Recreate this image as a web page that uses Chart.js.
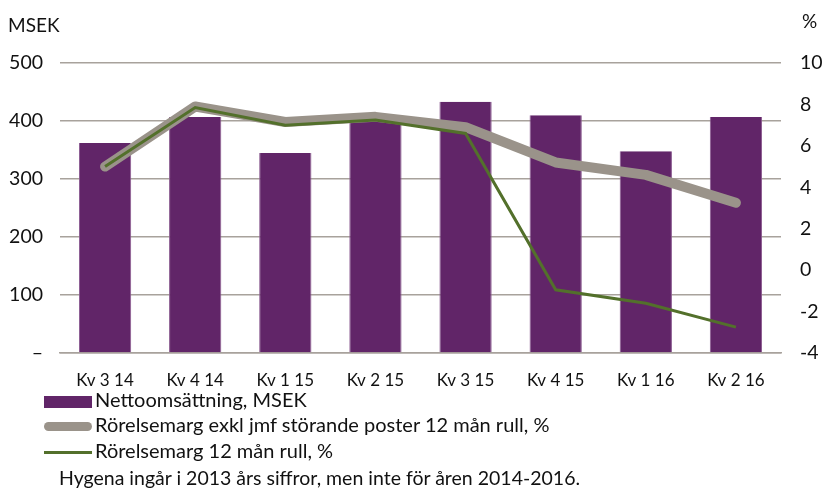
<!DOCTYPE html>
<html lang="sv">
<head>
<meta charset="UTF-8">
<title>Nettoomsättning och rörelsemarginal</title>
<style>
  body { margin: 0; background: #fff; font-family: Lato, "Open Sans", sans-serif; color: #111; }
  #wrap { position: relative; width: 822px; height: 491px; }
  #chartBox { position: absolute; left: 0; top: 0; width: 822px; height: 392px; }
  .leg { position: absolute; left: 44px; font-size: 20px; line-height: 22px; }
  .leg span.sw { display: inline-block; vertical-align: middle; width: 48px; margin-right: 3px; }
  .note { position: absolute; left: 59px; top: 466px; font-size: 19.5px; }
</style>
</head>
<body>
<div id="wrap">
  <div id="chartBox"><canvas id="myChart"></canvas></div>
  <div class="leg" style="top:388px"><span class="sw" style="height:12px;background:#612568"></span>Nettoomsättning, MSEK</div>
  <div class="leg" style="top:413px"><span class="sw" style="height:9px;border-radius:5px;background:#9a938a"></span>Rörelsemarg exkl jmf störande poster 12 mån rull, %</div>
  <div class="leg" style="top:439px"><span class="sw" style="height:3px;background:#53702b"></span>Rörelsemarg 12 mån rull, %</div>
  <div class="note">Hygena ingår i 2013 års siffror, men inte för åren 2014-2016.</div>
</div>

<script src="https://cdn.jsdelivr.net/npm/chart.js"></script>
<script>
const categories = ['Kv 3 14', 'Kv 4 14', 'Kv 1 15', 'Kv 2 15', 'Kv 3 15', 'Kv 4 15', 'Kv 1 16', 'Kv 2 16']
const nettoomsattning = [362, 407, 345, 405, 433, 410, 348, 407]
const marginalExkl = [5.0, 7.9, 7.15, 7.4, 6.9, 5.2, 4.6, 3.25]
const marginal = [5.0, 7.85, 7.0, 7.25, 6.6, -0.95, -1.6, -2.75]
const leftTicks = [0, 100, 200, 300, 400, 500]
const rightTicks = [-4, -2, 0, 2, 4, 6, 8, 10]

const tickFont = { family: 'Lato', size: 19.5 }

// axis unit labels above the scales
const unitLabels = {
    id: 'unitLabels',
    afterDraw(chart) {
        const ctx = chart.ctx
        ctx.save()
        ctx.font = '19px Lato'
        ctx.fillStyle = '#111'
        ctx.textBaseline = 'middle'
        ctx.textAlign = 'left'
        ctx.fillText('MSEK', 8, 26)
        ctx.fillText('%', 802, 22)
        ctx.restore()
    }
}

const ctx = document.getElementById('myChart')
new Chart(ctx, {
    data: {
        labels: categories,
        datasets: [
            {
                type: 'line',
                label: 'Rörelsemarg 12 mån rull, %',
                data: marginal,
                yAxisID: 'y1',
                borderColor: '#53702b',
                borderWidth: 3,
                pointRadius: 0,
                tension: 0,
                order: 1
            },
            {
                type: 'line',
                label: 'Rörelsemarg exkl jmf störande poster 12 mån rull, %',
                data: marginalExkl,
                yAxisID: 'y1',
                borderColor: '#9a938a',
                borderWidth: 10,
                borderCapStyle: 'round',
                borderJoinStyle: 'round',
                pointRadius: 0,
                tension: 0,
                order: 2
            },
            {
                type: 'bar',
                label: 'Nettoomsättning, MSEK',
                data: nettoomsattning,
                yAxisID: 'y',
                backgroundColor: '#612568',
                borderColor: '#8a5a90',
                borderWidth: { top: 0, left: 1, right: 1, bottom: 0 },
                categoryPercentage: 0.58,
                barPercentage: 1,
                order: 3
            }
        ]
    },
    options: {
        responsive: true,
        maintainAspectRatio: false,
        animation: false,
        layout: { padding: { top: 63, bottom: 0, left: 0, right: 0 } },
        plugins: { legend: { display: false }, tooltip: { enabled: false } },
        scales: {
            x: {
                afterFit: s => { s.height = 39 },
                grid: { display: false, drawTicks: false },
                border: { color: '#a8a29c', width: 1.5 },
                ticks: { color: '#111', font: { family: 'Lato', size: 17 }, padding: 17, maxRotation: 0 }
            },
            y: {
                position: 'left',
                min: 0,
                max: 500,
                afterBuildTicks: s => { s.ticks = leftTicks.map(v => ({ value: v })) },
                afterFit: s => { s.width = 60 },
                grid: { color: '#a8a29c', lineWidth: 1.5, drawTicks: false },
                border: { display: false },
                ticks: {
                    color: '#111', font: tickFont, padding: 17,
                    callback: v => v === 0 ? '–' : v
                }
            },
            y1: {
                position: 'right',
                min: -4,
                max: 10,
                afterBuildTicks: s => { s.ticks = rightTicks.map(v => ({ value: v })) },
                afterFit: s => { s.width = 41 },
                grid: { display: false, drawTicks: false },
                border: { display: false },
                ticks: { color: '#111', font: tickFont, padding: 19 }
            }
        }
    },
    plugins: [unitLabels]
})
</script>
</body>
</html>
